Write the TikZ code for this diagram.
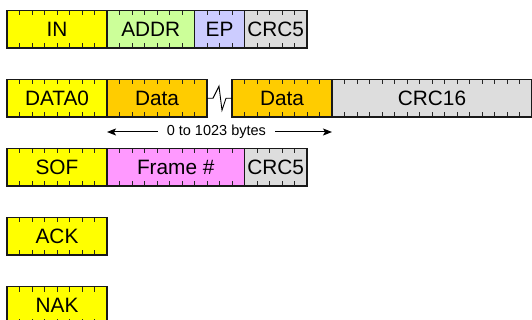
\documentclass[tikz,border=0pt]{standalone}
\usepackage{fontspec}
\setmainfont{Liberation Sans}
\usepackage{xcolor}
\usetikzlibrary{arrows.meta}
\usetikzlibrary{positioning}
\definecolor{pidyellow}{HTML}{FFFF00}
\definecolor{addrgreen}{HTML}{CCFF99}
\definecolor{epblue}{HTML}{CCCCFF}
\definecolor{crcgray}{HTML}{DDDDDD}
\definecolor{dataorange}{HTML}{FFCC00}
\definecolor{framepink}{HTML}{FF99FF}

\begin{document}
\begin{tikzpicture}[x=1pt, y=1pt, node distance=31.5pt, >={Stealth[length=9pt,width=7pt,inset=2pt]}]
\tikzstyle{field} = [draw=black!90, line width=1.1pt, inner sep=0pt, outer sep=0pt, minimum height=37.5pt, font=\fontsize{20.8}{20.8}\selectfont]
\tikzset{bits/.style={minimum width=#1*12.5pt,
    path picture={\foreach \k in {1,...,#1} {
        \draw[line width=1pt, black!85] ([xshift=\k*12.5pt]path picture bounding box.north west) -- ++(0,-5pt)
              ([xshift=\k*12.5pt]path picture bounding box.south west) -- ++(0,5pt);}}}}

\useasboundingbox (0,0) rectangle (532,-320);

% token: IN
\node[field, bits=8, fill=pidyellow, anchor=north west] (in) at (7,-10.5) {IN};
\node[field, bits=7, fill=addrgreen, right=0pt of in] (addr) {ADDR};
\node[field, bits=4, fill=epblue, right=0pt of addr] (ep) {EP};
\node[field, bits=5, fill=crcgray, right=0pt of ep] (crcA) {CRC5};

% data packet
\node[field, bits=8, fill=pidyellow, below=of in] (data0) {DATA0};
\node[field, bits=8, fill=dataorange, right=0pt of data0] (dataA) {Data};
\node[field, bits=8, fill=dataorange, right=25pt of dataA] (dataB) {Data};
\node[field, bits=16, fill=crcgray, right=0pt of dataB] (crcB) {CRC16};

\draw[line width=0.9pt] (dataA.east) -- ++(6,0) -- ++(6,12) -- ++(3,-24) -- ++(4,12) -- (dataB.west);

\coordinate (lenL) at ([yshift=-15pt]dataA.south west);
\coordinate (lenR) at ([yshift=-15pt]dataB.south east);
\path (lenL) -- (lenR) node[pos=0.486, inner xsep=9pt, font=\fontsize{14.5}{14.5}\selectfont] (bytes) {0 to 1023 bytes};
\draw[->, line width=1pt] (bytes.west) -- (lenL);
\draw[->, line width=1pt] (bytes.east) -- (lenR);

% start of frame
\node[field, bits=8, fill=pidyellow, below=of data0] (sof) {SOF};
\node[field, bits=11, fill=framepink, right=0pt of sof] (frame) {Frame \#};
\node[field, bits=5, fill=crcgray, right=0pt of frame] (crcC) {CRC5};

% handshake
\node[field, bits=8, fill=pidyellow, below=of sof] (ack) {ACK};
\node[field, bits=8, fill=pidyellow, below=of ack] (nak) {NAK};

\end{tikzpicture}
\end{document}
